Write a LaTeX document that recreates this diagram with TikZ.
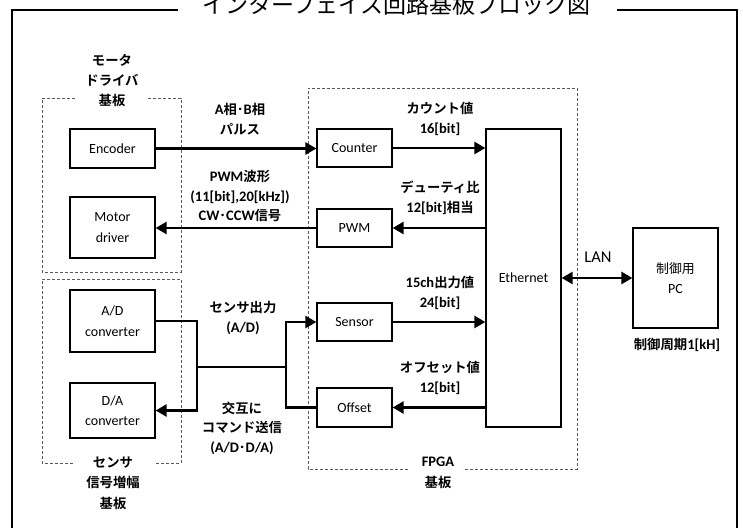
\documentclass[tikz,border=0pt]{standalone}
\usepackage{fontspec}
\setmainfont{Carlito}
\newfontfamily\jpfont{Noto Sans CJK JP}[Scale=0.92,BoldFont=Noto Sans CJK JP Bold]
\newcommand\jp[1]{{\jpfont #1}}
\usetikzlibrary{arrows.meta}
\begin{document}
\begin{tikzpicture}[x=1pt,y=-1pt,
  frame/.style={line width=1.4pt},
  dbox/.style={draw=black!65,line width=0.9pt,dash pattern=on 3pt off 2pt},
  blk/.style={draw,line width=1.3pt,minimum width=85pt,align=center,inner sep=0pt,
    font=\fontsize{14}{20.5}\selectfont},
  fblk/.style={blk,minimum width=75pt},
  lbl/.style={align=center,inner sep=0pt,font=\fontsize{14.5}{19.5}\selectfont\bfseries},
  conn/.style={line width=2.6pt},
  arr/.style={conn,-{Triangle[length=11pt,width=12pt]}},
  darr/.style={conn,{Triangle[length=11pt,width=12pt]}-{Triangle[length=11pt,width=12pt]}}
]
\useasboundingbox (0,0) rectangle (743,527);
% title and outer frame
\node[anchor=base,inner sep=0pt,font=\fontsize{25}{30}\selectfont\jpfont] (title) at (396.5,14) {インターフェイス回路基板ブロック図};
\draw[frame] (178,10) -- (12,10) -- (12,540);
\draw[frame] (617,10) -- (737,10) -- (737,540);
% dashed boards
\draw[dbox] (75,98) -- (42,98) -- (42,272) -- (181,272) -- (181,98) -- (148,98);
\draw[dbox] (73,463) -- (42,463) -- (42,279) -- (181,279) -- (181,463) -- (155,463);
\draw[dbox] (408,469) -- (308,469) -- (308,88) -- (577,88) -- (577,469) -- (463,469);
% board labels
\node[lbl,font=\fontsize{14.5}{20}\selectfont\bfseries] (mlbl) at (112,81) {\jp{モータ}\\\jp{ドライバ}\\\jp{基板}};
\node[lbl,font=\fontsize{14.5}{20.5}\selectfont\bfseries] (slbl) at (113,483) {\jp{センサ}\\\jp{信号増幅}\\\jp{基板}};
\node[lbl,font=\fontsize{14.5}{20.5}\selectfont\bfseries] (flbl) at (438,473) {FPGA\\\jp{基板}};
% blocks
\node[blk,minimum height=39pt] (enc) at (112.5,148.5) {Encoder};
\node[blk,minimum height=61pt] (mdrv) at (112.5,227.5) {Motor\\driver};
\node[blk,minimum height=62pt] (adc) at (112.5,321) {A/D\\converter};
\node[blk,minimum height=55pt] (dac) at (112.5,410.5) {D/A\\converter};
\node[fblk,minimum height=38pt] (cnt) at (354.5,148) {Counter};
\node[fblk,minimum height=38pt] (pwm) at (354.5,228) {PWM};
\node[fblk,minimum height=38pt] (sns) at (354.5,322) {Sensor};
\node[fblk,minimum height=39pt] (ofs) at (354.5,407.5) {Offset};
\node[fblk,minimum height=298pt] (eth) at (523.5,278) {Ethernet};
\node[blk,minimum height=100pt] (pc) at (675.5,278) {\jp{制御用}\\PC};
% connectors
\draw[arr] (enc.east) -- (enc.east -| cnt.west);
\draw[arr] (cnt.east) -- (cnt.east -| eth.west);
\draw[arr] (eth.west |- pwm.east) -- (pwm.east);
\draw[arr] (pwm.west) -- (pwm.west -| mdrv.east);
\draw[darr] (eth.east) -- (pc.west);
\coordinate (j1) at (197,367);
\coordinate (j2) at (286,367);
\draw[arr] (adc.east) -| (j1) |- (dac.east);
\draw[conn] (j1) -- (j2);
\draw[arr] (ofs.west) -| (j2) |- (sns.west);
\draw[arr] (sns.east) -- (sns.east -| eth.west);
\draw[arr] (eth.west |- ofs.east) -- (ofs.east);
% connector labels
\node[lbl] (l1) at (240,119) {A\jp{相･}B\jp{相}\\\jp{パルス}};
\node[lbl] (l2) at (240,196) {PWM\jp{波形}\\(11[bit],20[kHz])\\CW\jp{･}CCW\jp{信号}};
\node[lbl] (l3) at (440,119) {\jp{カウント値}\\16[bit]};
\node[lbl] (l4) at (440,198) {\jp{デューティ比}\\12[bit]\jp{相当}};
\node[lbl] (l5) at (440,293) {15ch\jp{出力値}\\24[bit]};
\node[lbl] (l6) at (440,378) {\jp{オフセット値}\\12[bit]};
\node[lbl] (l7) at (243,318) {\jp{センサ出力}\\(A/D)};
\node[lbl] (l8) at (242,428) {\jp{交互に}\\\jp{コマンド送信}\\(A/D\jp{･}D/A)};
\node[inner sep=0pt,font=\fontsize{16.5}{20}\selectfont] (lan) at (598,257) {LAN};
\node[lbl] (cyc) at (677,345) {\jp{制御周期}1[kH]};
\end{tikzpicture}
\end{document}
